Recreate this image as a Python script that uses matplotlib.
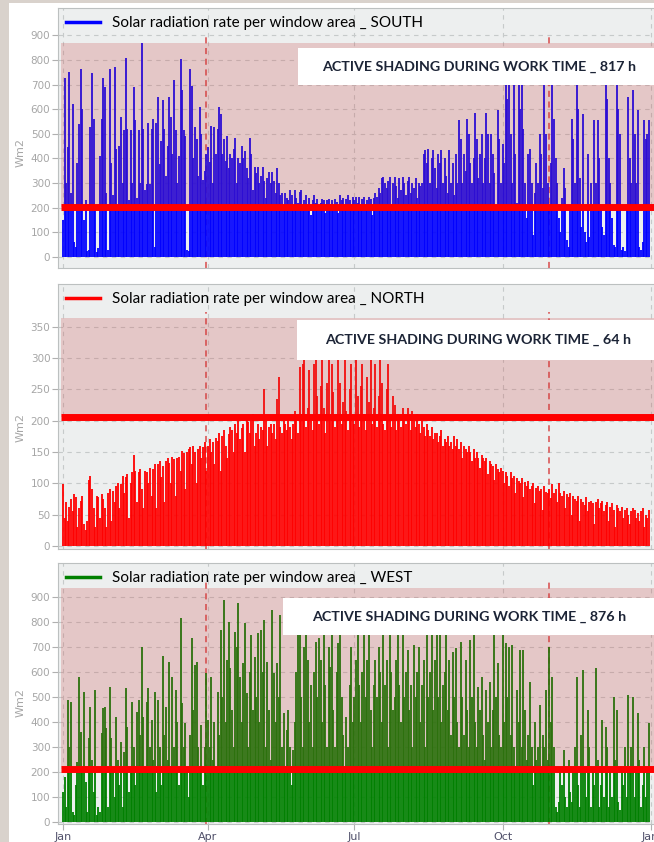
import numpy as np
import matplotlib.pyplot as plt
from matplotlib.lines import Line2D
from matplotlib.patches import Rectangle

# daily peak of solar radiation per window area [W/m2], one value per day of the year
south = [
    150, 726, 300, 447, 752, 260, 620, 60, 40, 380, 540, 762, 600, 150, 230, 25, 30, 529, 748, 560, 200, 20, 35, 410, 560, 726, 692, 260, 30, 762, 380,
    250, 770, 440, 200, 452, 570, 300, 515, 806, 520, 230, 515, 300, 689, 558, 240, 515, 300, 867, 518, 270, 298, 545, 298, 520, 560, 40, 545,
    650, 379, 470, 637, 520, 330, 452, 650, 570, 420, 718, 515, 300, 410, 802, 677, 515, 490, 30, 25, 762, 695, 400, 529, 480, 330, 607, 500, 312, 350, 420,
    447, 385, 530, 300, 529, 420, 520, 610, 580, 420, 480, 390, 490, 360, 420, 400, 440, 482, 300, 400, 380, 450, 400, 430, 360, 320, 482, 420, 270, 366,
    340, 366, 300, 330, 366, 310, 240, 320, 346, 300, 346, 310, 260, 360, 300, 250, 260, 210, 260, 240, 230, 271, 250, 200, 271, 240, 220, 265, 271, 210, 230,
    250, 200, 240, 170, 230, 250, 220, 237, 200, 220, 237, 230, 180, 230, 237, 215, 230, 200, 237, 225, 180, 250, 230, 240, 200, 237, 250, 230, 190, 244,
    230, 244, 220, 244, 200, 235, 244, 210, 230, 244, 236, 170, 240, 260, 244, 280, 260, 320, 325, 300, 280, 310, 325, 200, 300, 325, 290, 240, 320, 270, 325,
    300, 250, 310, 325, 260, 300, 280, 320, 240, 300, 290, 300, 420, 434, 380, 440, 300, 400, 434, 360, 280, 420, 380, 434, 300, 400, 330, 260, 434, 300, 380,
    250, 420, 300, 556, 480, 300, 420, 350, 562, 500, 380, 300, 400, 584, 480, 320, 420, 500, 300, 400, 584, 500, 300, 500, 420, 340, 200, 596, 480, 300,
    460, 380, 760, 640, 780, 500, 300, 700, 420, 220, 760, 600, 800, 520, 300, 160, 420, 440, 300, 90, 260, 380, 300, 500, 420, 280, 740, 500, 300, 200, 380,
    780, 560, 400, 300, 160, 100, 240, 360, 280, 70, 40, 200, 560, 480, 300, 760, 600, 320, 120, 580, 100, 60, 420, 80, 300, 200, 556, 300, 556, 400,
    200, 120, 90, 760, 640, 400, 300, 160, 50, 40, 760, 600, 500, 30, 40, 25, 200, 650, 400, 300, 678, 500, 300, 596, 40, 30, 60, 556, 480, 500, 556,
]
north = [
    98, 45, 70, 40, 62, 75, 55, 82, 78, 30, 60, 72, 80, 35, 25, 40, 105, 112, 90, 60, 30, 80, 78, 45, 82, 75, 60, 30, 85, 90, 40,
    88, 70, 95, 100, 60, 98, 112, 85, 110, 115, 45, 100, 118, 145, 120, 70, 118, 122, 90, 60, 120, 118, 100, 125, 80, 122, 130, 60,
    130, 135, 110, 128, 70, 135, 140, 132, 100, 142, 138, 80, 140, 142, 120, 152, 148, 90, 150, 155, 158, 130, 160, 150, 100, 155, 160, 140, 158, 165, 120,
    160, 170, 150, 165, 130, 172, 168, 180, 120, 175, 185, 160, 140, 178, 190, 185, 150, 195, 180, 200, 170, 188, 195, 150, 205, 198, 180, 200, 210, 160,
    180, 195, 170, 190, 185, 250, 200, 160, 190, 195, 180, 195, 170, 235, 270, 190, 180, 200, 195, 185, 205, 190, 170, 195, 215, 200, 180, 285, 210, 290, 300,
    190, 220, 280, 200, 185, 290, 300, 240, 195, 255, 300, 220, 180, 260, 300, 200, 290, 245, 190, 210, 300, 260, 195, 230, 300, 215, 185, 250, 290, 200,
    195, 300, 240, 190, 255, 290, 210, 185, 270, 230, 300, 195, 220, 290, 190, 240, 300, 260, 195, 185, 250, 290, 205, 190, 240, 225, 185, 210, 200, 190, 220,
    210, 195, 220, 200, 185, 215, 200, 190, 210, 195, 180, 200, 190, 175, 195, 185, 175, 190, 170, 180, 180, 165, 175, 185, 160, 170, 165, 175, 160, 165, 155,
    175, 160, 170, 155, 165, 140, 160, 155, 150, 160, 150, 135, 155, 140, 150, 140, 125, 145, 140, 135, 140, 115, 135, 130, 128, 105, 130, 122, 118, 125,
    120, 100, 118, 112, 95, 118, 108, 112, 85, 108, 104, 100, 108, 78, 102, 95, 104, 90, 95, 100, 68, 93, 95, 88, 90, 58, 95, 86, 84, 90, 76,
    98, 85, 90, 70, 100, 85, 80, 88, 60, 82, 78, 85, 50, 80, 75, 72, 80, 40, 75, 70, 65, 78, 55, 70, 72, 68, 35, 70, 75, 60,
    68, 72, 55, 65, 70, 40, 62, 68, 58, 30, 65, 60, 55, 62, 45, 58, 60, 50, 35, 55, 60, 58, 45, 52, 40, 55, 60, 30, 50, 45, 58,
]
west = [
    120, 181, 60, 488, 300, 481, 40, 30, 150, 240, 581, 361, 200, 521, 160, 40, 335, 461, 250, 120, 528, 30, 60, 40, 355, 455, 461, 375, 60, 541, 335,
    200, 100, 421, 250, 150, 321, 60, 280, 535, 381, 120, 200, 481, 300, 150, 441, 488, 350, 701, 420, 200, 481, 535, 300, 408, 250, 521, 120,
    488, 300, 150, 664, 350, 461, 250, 641, 200, 581, 300, 528, 400, 150, 815, 475, 300, 395, 200, 100, 350, 735, 450, 628, 641, 300, 200, 388, 150, 300, 595,
    408, 300, 581, 250, 400, 200, 521, 350, 768, 500, 888, 400, 648, 801, 615, 450, 300, 761, 701, 875, 581, 400, 635, 797, 515, 300, 600, 748, 450, 661,
    500, 755, 400, 768, 600, 808, 300, 641, 450, 250, 848, 595, 400, 635, 500, 828, 300, 435, 200, 368, 448, 300, 150, 288, 400, 600, 780, 760, 500, 300, 700,
    780, 650, 400, 550, 300, 600, 721, 500, 735, 650, 400, 760, 550, 300, 700, 620, 780, 450, 300, 600, 715, 760, 500, 350, 200, 420, 301, 550, 701, 400,
    500, 650, 760, 550, 400, 600, 770, 500, 650, 760, 450, 300, 550, 650, 500, 700, 600, 400, 760, 550, 650, 300, 770, 600, 450, 500, 650, 760, 550, 400, 760,
    500, 600, 688, 450, 550, 300, 708, 500, 600, 701, 400, 550, 650, 300, 760, 500, 600, 770, 450, 650, 760, 500, 770, 400, 550, 600, 760, 450, 648, 350, 681,
    500, 695, 400, 300, 721, 500, 350, 648, 450, 300, 728, 500, 760, 400, 300, 541, 450, 581, 350, 250, 528, 400, 561, 300, 450, 760, 500, 635, 350, 300,
    760, 400, 715, 500, 701, 350, 708, 300, 200, 528, 400, 688, 300, 688, 450, 250, 350, 561, 300, 150, 400, 250, 300, 468, 200, 350, 300, 528, 250, 701, 400,
    581, 300, 60, 40, 80, 200, 150, 288, 100, 60, 250, 120, 80, 200, 300, 581, 150, 60, 350, 608, 200, 100, 448, 300, 60, 200, 150, 615, 250, 60,
    150, 408, 100, 381, 300, 60, 200, 100, 501, 250, 448, 80, 50, 200, 150, 300, 100, 508, 200, 300, 501, 100, 200, 435, 250, 60, 150, 301, 100, 200, 395,
]

facades = ['SOUTH', 'NORTH', 'WEST']
colors = ['#0000ff', '#ff0000', '#008000']
shading_hours = [817, 64, 876]
thresholds = [202, 206, 213]       # radiation limit for active shading
shade_tops = [870, 364, 937]
yticks = [np.arange(0, 901, 100), np.arange(0, 351, 50), np.arange(0, 901, 100)]
ylims = [(-45, 1011), (-5, 418), (-8, 1036)]

month_labels = ['Jan', 'Apr', 'Jul', 'Oct', 'Jan']
month_days = [0, 90, 181, 273, 365]
dst_days = [89, 302]               # summer time start / end

W, H = 654, 842
fig = plt.figure(figsize=(W / 100, H / 100), dpi=100, facecolor='white')

# panel frames in pixels: (top, bottom)
frames = [(8, 268), (284, 549), (563, 824)]
boxes = [(298, 48, 85, 322), (297, 320, 360, 325), (283, 598, 635, 312)]
label_y = [0.446, 0.457, 0.464]

bg = '#edefef'
gray = '#a6a6a6'

for i, vals in enumerate([south, north, west]):
    top, bot = frames[i]
    ax = fig.add_axes([58 / W, 1 - bot / H, 602 / W, (bot - top) / H])
    ax.set_facecolor(bg)
    days = np.arange(len(vals))
    lo, hi = ylims[i]
    ax.set_xlim(-3.1, 370.8)
    ax.set_ylim(lo, hi)

    ax.vlines(days, 0, vals, colors=colors[i], lw=1.3, zorder=2)
    ax.vlines(dst_days, lo, shade_tops[i] * 1.025, colors='#d94a4a',
              linestyles=(0, (4, 3)), lw=1.1, zorder=1.5)
    ax.fill_between([-1.2, 372], thresholds[i], shade_tops[i],
                    color=(0.78, 0.24, 0.24), alpha=0.22, lw=0, zorder=3)
    ax.hlines(thresholds[i], -1.2, 372, colors='#ff0000', lw=5, zorder=4)

    ax.set_yticks(yticks[i])
    ax.set_xticks(month_days)
    ax.grid(True, color='#c6caca', ls=(0, (4, 4)), lw=0.8)
    ax.set_axisbelow(True)
    for s in ax.spines.values():
        s.set_color('#bcc0c0')
    ax.tick_params(axis='y', colors='#b0b0b0', labelcolor=gray, labelsize=7.5,
                   length=4, width=0.8, pad=1.5)
    if i < 2:
        ax.tick_params(axis='x', length=0, labelbottom=False)
    else:
        ax.set_xticklabels(month_labels)
        ax.tick_params(axis='x', colors='#b0b0b0', labelcolor='#50506a',
                       labelsize=8, length=4, width=0.8, pad=2)

    ax.set_ylabel('Wm2', color=gray, fontsize=8)
    ax.yaxis.set_label_coords(-0.053, label_y[i])

    leg = ax.legend([Line2D([0], [0], color=colors[i], lw=2.5)],
                    ['Solar radiation rate per window area _ ' + facades[i]],
                    loc='upper left', frameon=False, handlelength=2.2,
                    handletextpad=0.8, borderaxespad=0.15,
                    prop={'family': 'Lato', 'size': 11})
    leg.set_zorder(6)

    # summary box with the number of shading hours
    x0, y0, y1, tx = boxes[i]
    fig.patches.append(Rectangle((x0 / W, 1 - y1 / H), (W + 10 - x0) / W, (y1 - y0) / H,
                                 transform=fig.transFigure, fc='white', ec='none', zorder=5))
    fig.text(tx / W, 1 - (y0 + y1) / 2 / H,
             'ACTIVE SHADING DURING WORK TIME _ %d h' % shading_hours[i],
             ha='left', va='center', family='Lato', weight='bold', fontsize=10.3,
             color='#1c2436', zorder=6)

# light frame of the window around the plots
fig.patches.append(Rectangle((0, 0), 9 / W, 1, transform=fig.transFigure,
                             fc='#d9d2cc', ec='none', zorder=7))
fig.patches.append(Rectangle((0, 1 - 3 / H), 1, 3 / H, transform=fig.transFigure,
                             fc='#d9d2cc', ec='none', zorder=7))

fig.savefig('out.png', dpi=100, facecolor='white')
